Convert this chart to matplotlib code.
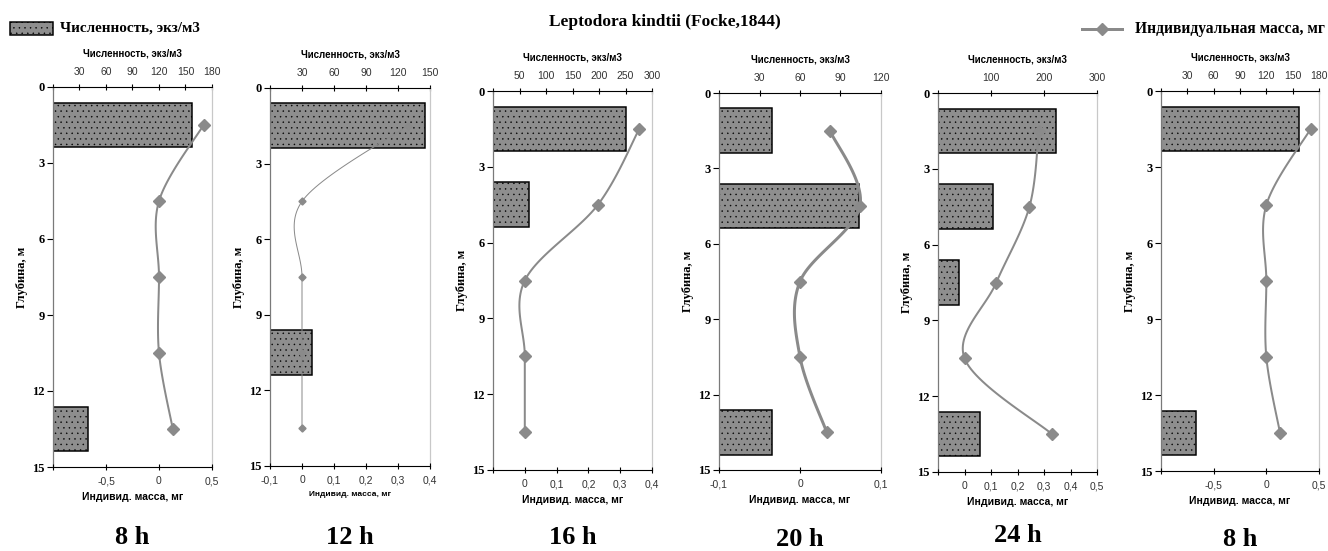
import numpy as np
import matplotlib
matplotlib.use('Agg')
import matplotlib.pyplot as plt
from matplotlib.lines import Line2D
from matplotlib.patches import Rectangle

plt.rcParams['hatch.color'] = '#202020'
plt.rcParams['hatch.linewidth'] = 0.3

# data
depths = [1.5, 4.5, 7.5, 10.5, 13.5]
hours = ['8 h', '12 h', '16 h', '20 h', '24 h', '8 h']
abundance = [
    [157, 0, 0, 0, 40],
    [145, 0, 0, 39, 0],
    [251, 68, 0, 0, 0],
    [39, 104, 0, 0, 39],
    [223, 104, 40, 0, 79],
    [157, 0, 0, 0, 40],
]
mass = [
    [0.42, 0.0, 0.0, 0.0, 0.13],
    [0.33, 0.0, 0.0, 0.0, 0.0],
    [0.36, 0.23, 0.0, 0.0, 0.0],
    [0.037, 0.074, 0.0, 0.0, 0.033],
    [0.28, 0.245, 0.12, 0.0, 0.33],
    [0.42, 0.0, 0.0, 0.0, 0.13],
]
abund_max = [180, 150, 300, 120, 300, 180]
abund_step = [30, 30, 50, 30, 100, 30]
mass_lim = [(-1, 0.5), (-0.1, 0.4), (-0.1, 0.4), (-0.1, 0.1), (-0.1, 0.5), (-1, 0.5)]
mass_step = [0.5, 0.1, 0.1, 0.1, 0.1, 0.5]
label_first = [False, True, False, True, False, False]

# panel boxes in pixels (left, top, right, bottom)
boxes = [(53, 87, 212, 467), (270, 88, 430, 466), (493, 91, 652, 470),
         (719, 93, 881, 470), (938, 93, 1097, 472), (1161, 91, 1319, 471)]
line_px = [2, 1, 2, 3, 2, 2]
marker_px = [8, 5, 8, 8, 8, 8]
label_y = [537, 537, 537, 540, 535, 540]

W, H = 1328, 551
PX = 72.0 / 100  # points per pixel
GRAY = '#8a8a8a'
BARC = '#8e8e8e'


def smooth(xs, ys, n=30):
    # excel-like smoothed line (catmull-rom bezier)
    p = np.column_stack([xs, ys]).astype(float)
    ext = np.vstack([p[0], p, p[-1]])
    out = []
    t = np.linspace(0, 1, n)[:, None]
    for i in range(len(p) - 1):
        p0, p1, p2, p3 = ext[i], ext[i + 1], ext[i + 2], ext[i + 3]
        c1 = p1 + (p2 - p0) / 6
        c2 = p2 - (p3 - p1) / 6
        seg = ((1 - t) ** 3) * p1 + 3 * ((1 - t) ** 2) * t * c1 + 3 * (1 - t) * t ** 2 * c2 + t ** 3 * p2
        out.append(seg)
    out = np.vstack(out)
    return out[:, 0], out[:, 1]


def fmt(v):
    s = ('%.1f' % v).rstrip('0').rstrip('.')
    if s in ('-0', ''):
        s = '0'
    return s.replace('.', ',')


fig = plt.figure(figsize=(W / 100, H / 100), dpi=100)

for k in range(6):
    l, t, r, b = boxes[k]
    ax = fig.add_axes([l / W, 1 - b / H, (r - l) / W, (b - t) / H])
    ax2 = ax.twiny()

    # bars: abundance on top axis
    vals = abundance[k]
    dd = [d for d, v in zip(depths, vals) if v > 0]
    vv = [v for v in vals if v > 0]
    ax.barh(dd, vv, height=1.77, color=BARC, edgecolor='black',
            linewidth=1.5 * PX, hatch='...', zorder=2)
    ax.set_xlim(0, abund_max[k])
    ticks = np.arange(0, abund_max[k] + 1, abund_step[k])
    ax.set_xticks(ticks)
    ax.set_xticklabels([''] + [str(v) for v in ticks[1:]])
    ax.xaxis.tick_top()
    ax.xaxis.set_label_position('top')
    ax.set_xlabel('Численность, экз/м3', fontsize=7, fontweight='bold',
                  family='Liberation Sans', labelpad=7)
    ax.tick_params(axis='x', direction='inout', length=5, width=0.8,
                   labelsize=7.5, pad=5, labelfontfamily='Liberation Sans',
                   colors='black', labelcolor='#333333')

    ax.set_ylim(15, 0)
    ax.set_yticks([0, 3, 6, 9, 12, 15])
    ax.set_yticklabels(['0', '3', '6', '9', '12', '15'], fontsize=9,
                       fontweight='bold', family='Liberation Serif')
    ax.tick_params(axis='y', direction='out', length=4, width=0.8, pad=2)
    ax.set_ylabel('Глубина, м', fontsize=9, fontweight='bold',
                  family='Liberation Serif', labelpad=3)

    ax.spines['bottom'].set_visible(False)
    ax.spines['top'].set_color('black')
    ax.spines['top'].set_linewidth(0.8)
    ax.spines['left'].set_color('#7a7a7a')
    ax.spines['left'].set_linewidth(0.9)
    ax.spines['right'].set_color('#c8c8c8')
    ax.spines['right'].set_linewidth(0.9)

    # line: individual mass on bottom axis
    xs, ys = smooth(mass[k], depths)
    ax2.plot(xs, ys, color=GRAY, linewidth=line_px[k] * PX, zorder=3,
             solid_capstyle='round')
    ax2.plot(mass[k], depths, linestyle='none', marker='D', color=GRAY,
             markersize=marker_px[k] * PX, zorder=4)
    lo, hi = mass_lim[k]
    ax2.set_xlim(lo, hi)
    mt = np.round(np.arange(lo, hi + 1e-9, mass_step[k]), 3)
    ax2.set_xticks(mt)
    labs = [fmt(v) for v in mt]
    if not label_first[k]:
        labs[0] = ''
    ax2.set_xticklabels(labs)
    ax2.xaxis.tick_bottom()
    ax2.xaxis.set_label_position('bottom')
    ax2.tick_params(axis='x', direction='inout', length=5, width=0.8,
                    labelsize=7.5, pad=4, labelfontfamily='Liberation Sans',
                    labelcolor='#333333')
    ax2.set_xlabel('Индивид. масса, мг', fontsize=6 if k == 1 else 7.5,
                   fontweight='bold', family='Liberation Sans', labelpad=4)
    for s in ('top', 'left', 'right'):
        ax2.spines[s].set_visible(False)
    ax2.spines['bottom'].set_color('black')
    ax2.spines['bottom'].set_linewidth(0.8)

    fig.text((l + r) / 2 / W, 1 - label_y[k] / H, hours[k], ha='center', va='center',
             fontsize=19, fontweight='bold', family='Liberation Serif')

# title and legends
fig.text(665 / W, 1 - 22 / H, 'Leptodora kindtii (Focke,1844)', ha='center', va='center',
         fontsize=12.5, fontweight='bold', family='Liberation Serif')

fig.patches.append(Rectangle((10 / W, 1 - 35 / H), 43 / W, 13 / H, transform=fig.transFigure,
                             facecolor=BARC, edgecolor='black', linewidth=1.5 * PX, hatch='...'))
fig.text(60 / W, 1 - 28 / H, 'Численность, экз/м3', ha='left', va='center',
         fontsize=10.9, fontweight='bold', family='Liberation Serif')

fig.lines.append(Line2D([1082 / W, 1122 / W], [1 - 29 / H, 1 - 29 / H], transform=fig.transFigure,
                        color=GRAY, linewidth=3 * PX))
fig.lines.append(Line2D([1102 / W], [1 - 29 / H], transform=fig.transFigure, marker='D',
                        color=GRAY, markersize=8 * PX, linestyle='none'))
fig.text(1135 / W, 1 - 29 / H, 'Индивидуальная масса, мг', ha='left', va='center',
         fontsize=11.2, fontweight='bold', family='Liberation Serif')

fig.savefig('out.png', dpi=100)
